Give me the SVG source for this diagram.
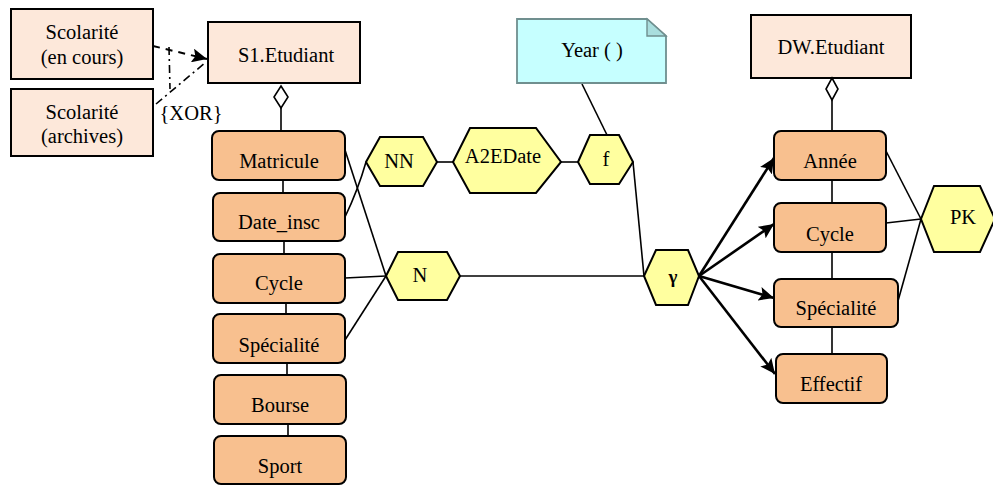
<svg xmlns="http://www.w3.org/2000/svg" width="993" height="485" viewBox="0 0 993 485" font-family="'Liberation Serif', 'Times New Roman', Times, serif">
  <defs>
    <style>
      text { font-family: 'Liberation Serif', 'Times New Roman', Times, serif; font-size: 20.5px; fill: #000; text-anchor: middle; }
      .entity { fill: #fde8da; stroke: #000; stroke-width: 2; }
      .attr { fill: #f8c08f; stroke: #000; stroke-width: 2; }
      .hex { fill: #ffff9f; stroke: #000; stroke-width: 2; }
      .link { fill: none; stroke: #000; stroke-width: 1.6; }
      .flow { fill: none; stroke: #000; stroke-width: 2.6; }
      .agg { fill: #fff; stroke: #000; stroke-width: 1.6; }
    </style>
    <marker id="arrow" markerUnits="userSpaceOnUse" markerWidth="16" markerHeight="14" refX="15" refY="7" orient="auto">
      <path d="M0,0 L15,7 L0,14 L3,7 Z" fill="#000"/>
    </marker>
    <filter id="soft" x="-5%" y="-5%" width="110%" height="110%">
      <feGaussianBlur stdDeviation="0.6"/>
    </filter>
  </defs>

  <rect width="993" height="485" fill="#fff"/>

  <!-- connectors -->
  <g id="connectors">
    <!-- source alternatives (XOR) -->
    <line x1="153" y1="46" x2="207" y2="59" stroke="#000" stroke-width="2" stroke-dasharray="7,6" marker-end="url(#arrow)"/>
    <line x1="156" y1="104" x2="206" y2="62" stroke="#000" stroke-width="1.6" stroke-dasharray="8,4,2,4"/>
    <line x1="169" y1="47" x2="170" y2="89" stroke="#000" stroke-width="1.6" stroke-dasharray="8,4,2,4"/>

    <!-- source entity composition -->
    <line class="link" x1="281" y1="108" x2="281" y2="131"/>
    <line class="link" x1="283" y1="180" x2="283" y2="193"/>
    <line class="link" x1="284" y1="241" x2="284" y2="254"/>
    <line class="link" x1="286" y1="303" x2="286" y2="314"/>
    <line class="link" x1="287" y1="363" x2="287" y2="375"/>
    <line class="link" x1="288" y1="424" x2="288" y2="436"/>

    <!-- transformations -->
    <line class="link" x1="345" y1="150" x2="386" y2="276"/>
    <path class="link" d="M345,217 Q358,190 366,162"/>
    <line class="link" x1="345" y1="278" x2="386" y2="276"/>
    <line class="link" x1="345" y1="340" x2="386" y2="276"/>
    <line class="link" x1="437" y1="162" x2="453" y2="162"/>
    <line class="link" x1="561" y1="162" x2="578" y2="162"/>
    <line class="link" x1="582" y1="84" x2="607" y2="135"/>
    <line class="link" x1="633" y1="162" x2="644" y2="276"/>
    <line class="link" x1="460" y1="276" x2="644" y2="276"/>

    <!-- aggregation outputs -->
    <line class="flow" x1="699" y1="276" x2="774" y2="158" marker-end="url(#arrow)"/>
    <line class="flow" x1="699" y1="276" x2="774" y2="224" marker-end="url(#arrow)"/>
    <line class="flow" x1="699" y1="276" x2="774" y2="298" marker-end="url(#arrow)"/>
    <line class="flow" x1="699" y1="276" x2="775" y2="374" marker-end="url(#arrow)"/>

    <!-- target entity composition -->
    <line class="link" x1="832" y1="100" x2="832" y2="131"/>
    <line class="link" x1="832" y1="180" x2="832" y2="203"/>
    <line class="link" x1="832" y1="252" x2="832" y2="279"/>
    <line class="link" x1="832" y1="327" x2="832" y2="353"/>

    <!-- primary key -->
    <line class="link" x1="886" y1="151" x2="921" y2="219"/>
    <line class="link" x1="886" y1="223" x2="921" y2="219"/>
    <line class="link" x1="898" y1="301" x2="921" y2="219"/>
  </g>

  <!-- source alternatives -->
  <g id="scol-en-cours">
    <rect class="entity" x="11" y="9" width="142" height="70"/>
    <text x="82" y="39">Scolarité</text>
    <text x="82" y="64">(en cours)</text>
  </g>
  <g id="scol-archives">
    <rect class="entity" x="11" y="89" width="142" height="67"/>
    <text x="82" y="119">Scolarité</text>
    <text x="82" y="143">(archives)</text>
  </g>
  <text x="191" y="120">{XOR}</text>

  <!-- source entity -->
  <g id="s1-etudiant">
    <rect class="entity" x="208" y="22" width="152" height="61"/>
    <text x="286" y="62">S1.Etudiant</text>
    <path class="agg" d="M281,86 L288,97 L281,108 L274,97 Z"/>
  </g>
  <g id="s1-matricule">
    <rect class="attr" x="212" y="131" width="133" height="49" rx="7"/>
    <text x="279" y="168">Matricule</text>
  </g>
  <g id="s1-date-insc">
    <rect class="attr" x="213" y="193" width="132" height="48" rx="7"/>
    <text x="279" y="229">Date_insc</text>
  </g>
  <g id="s1-cycle">
    <rect class="attr" x="213" y="254" width="132" height="49" rx="7"/>
    <text x="279" y="290">Cycle</text>
  </g>
  <g id="s1-specialite">
    <rect class="attr" x="213" y="314" width="132" height="49" rx="7"/>
    <text x="279" y="352">Spécialité</text>
  </g>
  <g id="s1-bourse">
    <rect class="attr" x="214" y="375" width="132" height="49" rx="7"/>
    <text x="280" y="412">Bourse</text>
  </g>
  <g id="s1-sport">
    <rect class="attr" x="214" y="436" width="132" height="48" rx="7"/>
    <text x="280" y="473">Sport</text>
  </g>

  <!-- operators -->
  <g id="op-nn">
    <polygon class="hex" points="366,162 380,137 423,137 437,162 423,186 380,186"/>
    <text x="399" y="168">NN</text>
  </g>
  <g id="op-a2edate">
    <polygon class="hex" points="453,162 470,128 536,128 561,162 536,193 470,193"/>
    <text x="503" y="163">A2EDate</text>
  </g>
  <g id="op-f">
    <polygon class="hex" points="578,162 590,135 619,135 633,162 619,184 590,184"/>
    <text x="606" y="166">f</text>
  </g>
  <g id="op-n">
    <polygon class="hex" points="386,276 398,252 447,252 460,276 447,300 398,300"/>
    <text x="420" y="282">N</text>
  </g>
  <g id="op-gamma">
    <polygon class="hex" points="644,276 656,250 688,250 699,276 688,305 656,305"/>
    <text x="673" y="283" style="font-weight:bold;font-size:19px">γ</text>
  </g>
  <g id="op-pk">
    <polygon class="hex" points="921,219 934,186 980,186 995,219 980,252 934,252"/>
    <text x="963" y="224">PK</text>
  </g>

  <!-- note -->
  <g id="note-year">
    <g filter="url(#soft)">
      <path d="M517,19 L647,19 L666,36 L666,83 L517,83 Z" fill="#c6ffff" stroke="#6f8f8f" stroke-width="1.8"/>
      <path d="M647,19 L647,36 L666,36 Z" fill="#a9dede" stroke="#6f8f8f" stroke-width="1.4"/>
    </g>
    <text x="592" y="57">Year ( )</text>
  </g>

  <!-- target entity -->
  <g id="dw-etudiant">
    <rect class="entity" x="751" y="15" width="160" height="63"/>
    <text x="831" y="54">DW.Etudiant</text>
    <path class="agg" d="M832,78 L838,89 L832,100 L826,89 Z"/>
  </g>
  <g id="dw-annee">
    <rect class="attr" x="774" y="131" width="112" height="49" rx="7"/>
    <text x="830" y="168">Année</text>
  </g>
  <g id="dw-cycle">
    <rect class="attr" x="774" y="203" width="112" height="49" rx="7"/>
    <text x="830" y="241">Cycle</text>
  </g>
  <g id="dw-specialite">
    <rect class="attr" x="774" y="279" width="124" height="48" rx="7"/>
    <text x="836" y="315">Spécialité</text>
  </g>
  <g id="dw-effectif">
    <rect class="attr" x="776" y="354" width="111" height="49" rx="7"/>
    <text x="831" y="391">Effectif</text>
  </g>
</svg>
